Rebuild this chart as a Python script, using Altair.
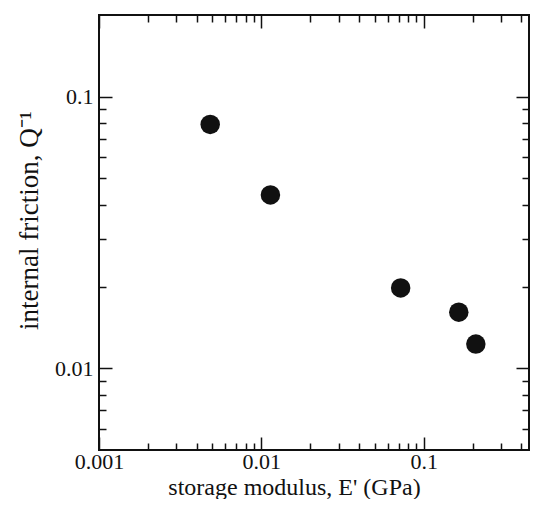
import altair as alt
import pandas as pd

# data
storage_modulus = [0.00484, 0.01137, 0.0721, 0.1644, 0.2094]
internal_friction = [0.0791, 0.0435, 0.01977, 0.01609, 0.01228]

x_major = [0.001, 0.01, 0.1]
x_minor = [0.002, 0.003, 0.004, 0.005, 0.006, 0.007, 0.008, 0.009,
           0.02, 0.03, 0.04, 0.05, 0.06, 0.07, 0.08, 0.09,
           0.2, 0.3, 0.4]
y_major = [0.01, 0.1]
y_minor = [0.006, 0.007, 0.008, 0.009,
           0.02, 0.03, 0.04, 0.05, 0.06, 0.07, 0.08, 0.09]

# the reference runs to about 0.5 at its very right edge; the page is a few
# pixels narrower, so the axis stops a little short of that with the same scale
x_domain = [0.001, 0.445]
y_domain = [0.005, 0.2]

W, H = 430, 435

df = pd.DataFrame({"E": storage_modulus, "Q": internal_friction})

FONT = "Liberation Serif"
INK = "#111111"
xs = alt.Scale(type="log", domain=x_domain, nice=False)
ys = alt.Scale(type="log", domain=y_domain, nice=False)


def tick_axis(orient, values, size, offset):
    # an axis of the opposite side, pulled across the plot, so its ticks point inward
    return alt.Axis(orient=orient, values=values, labels=False, title=None,
                    domain=False, grid=False, ticks=True, offset=offset,
                    tickSize=size, tickWidth=1.5, tickColor=INK)


def layer(xaxis, yaxis, opacity=0.0):
    return alt.Chart(df).mark_circle(size=380, color=INK, opacity=opacity).encode(
        x=alt.X("E:Q", scale=xs, axis=xaxis),
        y=alt.Y("Q:Q", scale=ys, axis=yaxis),
    )


label_x = alt.Axis(orient="bottom", values=x_major, format="~g", ticks=False,
                   domain=False, grid=False, labelFont=FONT, labelFontSize=22,
                   labelColor=INK, labelPadding=1, labelFlush=False,
                   title="storage modulus, E' (GPa)", titleFont=FONT,
                   titleFontSize=24, titleFontWeight="normal", titleColor=INK,
                   titleX=195, titleY=44, titleAlign="center",
                   titleBaseline="alphabetic")
label_y = alt.Axis(orient="left", values=y_major, format="~g", ticks=False,
                   domain=False, grid=False, labelFont=FONT, labelFontSize=22,
                   labelColor=INK, labelPadding=6, labelFlush=False,
                   title="internal friction, Q⁻¹", titleFont=FONT,
                   titleFontSize=27, titleFontWeight="normal", titleColor=INK,
                   titleX=-62, titleY=205, titleAlign="center",
                   titleBaseline="alphabetic", titleAngle=270)

chart = alt.layer(
    layer(label_x, label_y, opacity=1.0),
    layer(tick_axis("top", x_major, 13, -H), tick_axis("right", y_major, 13, -W)),
    layer(tick_axis("top", x_minor, 7, -H), tick_axis("right", y_minor, 7, -W)),
    layer(tick_axis("bottom", x_major, 13, -H), tick_axis("left", y_major, 13, -W)),
    layer(tick_axis("bottom", x_minor, 7, -H), tick_axis("left", y_minor, 7, -W)),
).resolve_axis(x="independent", y="independent").properties(
    width=W, height=H,
    padding={"left": 91, "top": 7, "right": 1, "bottom": 49},
    autosize="none",
).configure(background="white", view={"stroke": INK, "strokeWidth": 2})

chart.save("out.html", embed_options={"renderer": "svg", "actions": False})
